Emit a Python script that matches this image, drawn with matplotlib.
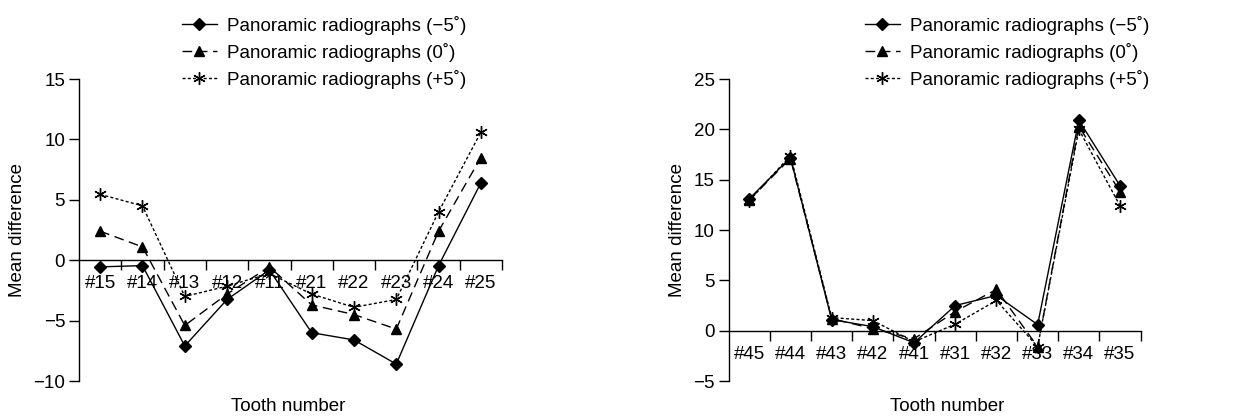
import matplotlib
matplotlib.use("Agg")
import matplotlib.pyplot as plt
from matplotlib.ticker import FixedLocator, NullFormatter

plt.rcParams['font.family'] = ['Liberation Sans', 'DejaVu Sans']
FS = 13.5

# upper teeth (left panel)
upper_teeth = ['#15', '#14', '#13', '#12', '#11', '#21', '#22', '#23', '#24', '#25']
upper_m5 = [-0.55, -0.45, -7.1, -3.25, -0.8, -6.0, -6.6, -8.6, -0.45, 6.4]
upper_0 = [2.4, 1.1, -5.4, -2.8, -0.55, -3.7, -4.5, -5.7, 2.4, 8.5]
upper_p5 = [5.45, 4.5, -3.0, -2.15, -1.1, -2.8, -3.9, -3.25, 4.0, 10.6]

# lower teeth (right panel)
lower_teeth = ['#45', '#44', '#43', '#42', '#41', '#31', '#32', '#33', '#34', '#35']
lower_m5 = [13.1, 17.2, 1.1, 0.4, -1.2, 2.5, 3.5, 0.6, 20.9, 14.4]
lower_0 = [13.0, 17.1, 1.2, 0.2, -0.8, 1.9, 4.1, -1.6, 20.3, 13.8]
lower_p5 = [12.9, 17.4, 1.3, 1.0, -1.1, 0.65, 3.0, -1.6, 20.0, 12.4]

labels = ['Panoramic radiographs (\u22125\u02da)',
          'Panoramic radiographs (0\u02da)',
          'Panoramic radiographs (+5\u02da)']

fig = plt.figure(figsize=(12.35, 4.18), dpi=100)


def draw_panel(rect, teeth, series, yticks, legend_xy, xlabel_x):
    ax = fig.add_axes(rect)
    x = list(range(len(teeth)))
    styles = [('-', 'D', 6), ((0, (7, 4)), '^', 7), ((0, (2.2, 1.6)), (6, 2, 0), 9)]
    for vals, lab, (ls, mk, ms) in zip(series, labels, styles):
        ax.plot(x, vals, color='black', linestyle=ls, linewidth=1.0,
                marker=mk, markersize=ms, markerfacecolor='black',
                markeredgecolor='black', markeredgewidth=1.0, label=lab)
    ax.set_xlim(-0.5, len(teeth) - 0.5)
    ax.set_ylim(yticks[0], yticks[-1])
    ax.set_yticks(yticks)
    ax.set_yticklabels([str(t).replace('-', '\u2212') for t in yticks])
    for s in ['top', 'right']:
        ax.spines[s].set_visible(False)
    ax.spines['bottom'].set_position(('data', 0))
    ax.spines['left'].set_linewidth(1.0)
    ax.spines['bottom'].set_linewidth(1.0)
    ax.set_xticks(x)
    ax.set_xticklabels(teeth)
    ax.xaxis.set_minor_locator(FixedLocator([i + 0.5 for i in range(len(teeth))]))
    ax.xaxis.set_minor_formatter(NullFormatter())
    ax.tick_params(axis='x', which='major', length=0, pad=11, labelsize=FS)
    ax.tick_params(axis='x', which='minor', direction='out', length=7, width=1.0)
    ax.tick_params(axis='y', direction='out', length=7, width=1.0, labelsize=FS, pad=3)
    ax.set_ylabel('Mean difference', fontsize=FS, labelpad=5)
    fig.text(xlabel_x, 0.008, 'Tooth number', fontsize=FS, ha='center', va='bottom')
    ax.legend(loc='upper left', bbox_to_anchor=legend_xy, bbox_transform=fig.transFigure,
              frameon=False, fontsize=FS, handlelength=1.9, handletextpad=0.55,
              labelspacing=0.42, borderpad=0, borderaxespad=0)
    return ax


draw_panel([0.064, 0.0885, 0.3425, 0.7225], upper_teeth,
           [upper_m5, upper_0, upper_p5], [-10, -5, 0, 5, 10, 15],
           (0.147, 0.962), 0.233)
draw_panel([0.590, 0.0885, 0.3336, 0.7225], lower_teeth,
           [lower_m5, lower_0, lower_p5], [-5, 0, 5, 10, 15, 20, 25],
           (0.700, 0.962), 0.767)

fig.savefig('out.png', dpi=100)
